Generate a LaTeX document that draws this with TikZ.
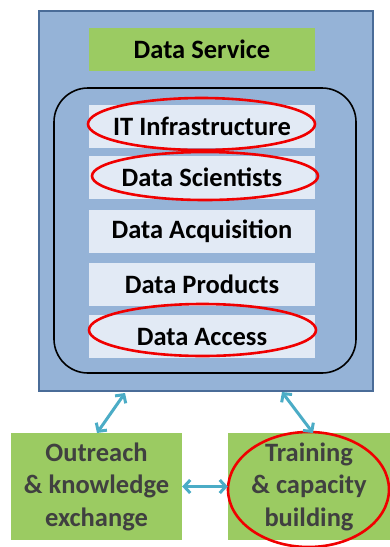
\documentclass[tikz,border=0pt]{standalone}
\usepackage{fontspec}
\setmainfont{Carlito}
\usetikzlibrary{arrows.meta,shapes.geometric}
\definecolor{outerfill}{HTML}{95B3D7}
\definecolor{outerline}{HTML}{4A6C98}
\definecolor{greenfill}{HTML}{9BCB62}
\definecolor{boxfill}{HTML}{E2EAF5}
\definecolor{arrowc}{HTML}{4BACC6}
\definecolor{redl}{HTML}{F00000}
\definecolor{graytext}{HTML}{404040}
\tikzset{
  bigtext/.style={font=\fontsize{26.5}{32.5}\selectfont\bfseries},
  layerbox/.style={rectangle, fill=boxfill, minimum width=226pt, minimum height=43pt, inner sep=0pt, bigtext},
  greenbox/.style={rectangle, fill=greenfill, inner sep=0pt, bigtext},
  redring/.style={ellipse, draw=redl, line width=2.6pt, inner sep=0pt},
  link/.style={draw=arrowc, line width=3pt, {Straight Barb[length=6pt,width=13pt]}-{Straight Barb[length=6pt,width=13pt]}},
}
\begin{document}
\begin{tikzpicture}[x=1pt,y=-1pt]
\useasboundingbox (0,0) rectangle (390,547);
\node[rectangle, fill=outerfill, draw=outerline, line width=1.6pt, minimum width=334pt, minimum height=380pt] (outer) at (206,201) {};
\node[greenbox, minimum width=226pt, minimum height=43pt] (ds) at (202,49.5) {Data Service};
\node[rectangle, draw=black, line width=1.6pt, rounded corners=34pt, minimum width=302pt, minimum height=285pt] (core) at (205,230.5) {};
\node[layerbox] (it) at (202,126) {IT Infrastructure};
\node[layerbox] (sci) at (202,177) {Data Scientists};
\node[layerbox] (acq) at (202,231.5) {Data Acquisition};
\node[layerbox] (prod) at (202,284.5) {Data Products};
\node[layerbox] (acc) at (202,336.5) {Data Access};
\node[redring, minimum width=227pt, minimum height=52pt] (eit) at (201.5,124) {};
\node[redring, minimum width=226pt, minimum height=48pt] (esci) at (205,176) {};
\node[redring, minimum width=227pt, minimum height=52pt] (eacc) at (202.5,330) {};
\node[greenbox, minimum width=171pt, minimum height=107pt, text=graytext, align=center] (out) at (96.5,486.5) {Outreach\\\& knowledge\\exchange};
\node[greenbox, minimum width=162pt, minimum height=107pt, text=graytext, align=center] (train) at (309,486.5) {Training\\\& capacity\\building};
\node[redring, minimum width=161pt, minimum height=115pt] (etrain) at (308.5,489.5) {};
\coordinate (a1) at (125,393);
\coordinate (b1) at (97,433);
\coordinate (a2) at (282,392);
\coordinate (b2) at (313,433);
\draw[link] (a1) -- (b1);
\draw[link] (a2) -- (b2);
\draw[link] (out.east) -- (train.west);
\end{tikzpicture}
\end{document}
